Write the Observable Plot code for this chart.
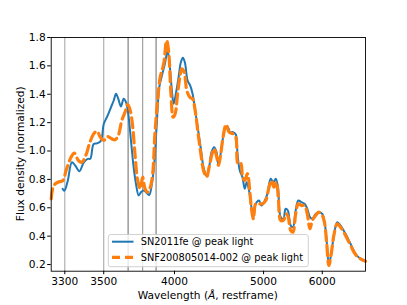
<!DOCTYPE html>
<html>
<head>
<meta charset="utf-8">
<script src="https://cdn.jsdelivr.net/npm/d3@7"></script>
<script src="https://cdn.jsdelivr.net/npm/@observablehq/plot@0.6"></script>
<style>
  html, body { margin: 0; padding: 0; background: #fff; }
  #chart svg { display: block; }
</style>
</head>
<body>
<div id="chart"></div>
<script>
// ---- data ----
const seriesNames = ["SN2011fe @ peak light", "SNF200805014-002 @ peak light"];
const seriesColors = ["#1f77b4", "#ff7f0e"];

const blueWave = [3290,3298,3314,3333,3349,3370,3392,3413,3426,3444,3466,3485,3500,3519,3543,3559,3573,3587,3604,3621,3636,3651,3669,3687,3703,3722,3738,3757,3781,3798,3816,3836,3854,3875,3896,3920,3942,3961,3978,3993,4012,4036,4056,4074,4092,4117,4141,4164,4189,4218,4245,4272,4303,4330,4355,4383,4409,4426,4448,4476,4502,4533,4563,4599,4632,4653,4681,4715,4744,4770,4800,4832,4859,4890,4936,4969,5019,5055,5104,5145,5180,5215,5257,5300,5337,5373,5420,5458,5505,5551,5604,5663,5712,5761,5806,5869,5933,6000,6047,6088,6135,6185,6240,6314,6387,6499,6615,6735,6858,6984];
const blueFlux = [0.734,0.72,0.792,0.921,0.898,0.858,0.92,0.945,0.945,1.05,1.055,1.074,1.19,1.24,1.31,1.356,1.403,1.368,1.314,1.368,1.344,1.262,1.074,0.886,0.769,0.687,0.71,0.722,0.703,0.69,0.757,0.91,1.168,1.45,1.532,1.615,1.708,1.591,1.426,1.333,1.403,1.52,1.626,1.657,1.626,1.497,1.462,1.403,1.286,1.145,1.016,0.886,0.823,0.886,0.992,1.027,0.992,0.91,0.956,1.074,1.157,1.173,1.133,1.133,1.116,0.98,0.863,0.816,0.734,0.78,0.722,0.604,0.534,0.628,0.651,0.616,0.651,0.698,0.804,0.78,0.804,0.745,0.534,0.522,0.593,0.581,0.475,0.463,0.581,0.651,0.64,0.628,0.593,0.534,0.522,0.557,0.569,0.557,0.498,0.369,0.205,0.276,0.405,0.498,0.475,0.417,0.346,0.276,0.24,0.229];

const orangeWave = [3240,3251,3269,3291,3306,3329,3345,3365,3382,3404,3421,3444,3462,3481,3500,3523,3547,3567,3587,3609,3630,3647,3664,3681,3696,3715,3733,3750,3767,3786,3806,3824,3841,3862,3882,3910,3934,3950,3970,3989,4006,4027,4047,4065,4086,4110,4138,4164,4189,4218,4245,4272,4303,4330,4361,4383,4412,4431,4456,4482,4517,4551,4599,4632,4660,4693,4715,4744,4779,4809,4832,4859,4890,4936,4983,5031,5079,5115,5154,5190,5220,5257,5300,5348,5380,5420,5458,5505,5551,5604,5663,5712,5761,5806,5869,5933,6000,6047,6088,6135,6185,6240,6314,6387,6499,6615,6735,6858,6984];
const orangeFlux = [0.663,0.757,0.78,0.792,0.863,0.956,0.985,0.933,0.921,0.975,1.05,1.121,1.14,1.097,1.074,1.102,1.086,1.079,1.109,1.215,1.274,1.328,1.286,1.168,0.98,0.792,0.734,0.816,0.734,0.71,0.745,0.839,1.121,1.356,1.52,1.615,1.779,1.708,1.403,1.238,1.262,1.403,1.52,1.579,1.556,1.426,1.379,1.368,1.286,1.121,0.98,0.863,0.816,0.886,0.98,1.016,0.956,0.898,0.98,1.097,1.187,1.133,1.121,1.097,0.91,0.914,0.827,0.792,0.84,0.722,0.593,0.522,0.628,0.628,0.628,0.651,0.745,0.792,0.745,0.78,0.675,0.511,0.511,0.557,0.534,0.44,0.428,0.557,0.628,0.616,0.616,0.557,0.452,0.511,0.546,0.569,0.546,0.491,0.357,0.193,0.276,0.405,0.487,0.463,0.405,0.335,0.27,0.24,0.222];

const markerWaves = [3300, 3500, 3650, 3750, 3850];
const markerShades = ["#aaaaaa", "#aaaaaa", "#777777", "#999999", "#777777"];
const xTicks = [3300, 3500, 4000, 5000, 6000];
const yTicks = [0.2, 0.4, 0.6, 0.8, 1.0, 1.2, 1.4, 1.6, 1.8];
const xDomain = [3240, 6984];
const yDomain = [0.153, 1.8];
const xLabelParts = ["Wavelength (", "Å", ", restframe)"];
const yLabel = "Flux density (normalized)";

// The wavelength axis is logarithmic in (wavelength - offset)
const OFFSET = 2500;
const sx = w => Math.log10(w - OFFSET);
const inv = v => Math.round(Math.pow(10, v) + OFFSET);

const blue = blueWave.map((w, i) => ({w, f: blueFlux[i]}));
const orange = orangeWave.map((w, i) => ({w, f: orangeFlux[i]}));
const markers = markerWaves.map((w, i) => ({w, c: markerShades[i]}));

const FONT = "DejaVu Sans, sans-serif";

const chart = Plot.plot({
  width: 407,
  height: 305,
  marginLeft: 50.7,
  marginRight: 42,
  marginTop: 37,
  marginBottom: 34.3,
  style: {fontFamily: FONT, fontSize: "10.6px", color: "#000", background: "#fff"},
  x: {type: "linear", domain: xDomain.map(sx)},
  y: {domain: yDomain},
  marks: [
    Plot.ruleX(markers, {x: d => sx(d.w), stroke: d => d.c, strokeWidth: 1.1}),
    Plot.line(blue, {x: d => sx(d.w), y: "f", stroke: seriesColors[0], strokeWidth: 2, curve: "catmull-rom"}),
    Plot.line(orange, {x: d => sx(d.w), y: "f", stroke: seriesColors[1], strokeWidth: 3.2, strokeDasharray: "10,5", curve: "catmull-rom"}),
    Plot.frame({stroke: "#000", strokeWidth: 0.9}),
    Plot.axisX(xTicks.map(sx), {tickSize: 3.5, tickPadding: 3, tickFormat: d => String(inv(d)), label: null, fontSize: "10.6px"}),
    Plot.axisY(yTicks, {tickSize: 3.5, tickPadding: 2, tickFormat: d => d.toFixed(1), label: null, fontSize: "10.6px"})
  ]
});

document.getElementById("chart").appendChild(chart);

const svg = d3.select(chart);
// axis labels
const xl = svg.append("text")
  .attr("x", 207.8).attr("y", 298.5)
  .attr("text-anchor", "middle")
  .attr("font-family", FONT).attr("font-size", "10.6px").attr("fill", "#000");
xl.append("tspan").text(xLabelParts[0]);
xl.append("tspan").attr("font-style", "italic").text(xLabelParts[1]);
xl.append("tspan").text(xLabelParts[2]);

svg.append("text")
  .attr("transform", "translate(23.5,153.8) rotate(-90)")
  .attr("text-anchor", "middle")
  .attr("font-family", FONT).attr("font-size", "10.6px").attr("fill", "#000")
  .text(yLabel);

// legend box
const lg = svg.append("g");
lg.append("rect")
  .attr("x", 108.3).attr("y", 234.5).attr("width", 200).attr("height", 32.2)
  .attr("rx", 2.5).attr("ry", 2.5)
  .attr("fill", "#fff").attr("fill-opacity", 0.8)
  .attr("stroke", "#cccccc").attr("stroke-width", 0.9);
const rowsY = [241.7, 257.3];
seriesNames.forEach((name, i) => {
  lg.append("line")
    .attr("x1", 112).attr("x2", 133.5).attr("y1", rowsY[i]).attr("y2", rowsY[i])
    .attr("stroke", seriesColors[i])
    .attr("stroke-width", i === 0 ? 2 : 3.2)
    .attr("stroke-dasharray", i === 0 ? null : "8,5");
  lg.append("text")
    .attr("x", 140.7).attr("y", rowsY[i] + 3.6)
    .attr("text-anchor", "start")
    .attr("font-family", FONT).attr("font-size", "9.8px").attr("fill", "#000")
    .text(name);
});
</script>
</body>
</html>
